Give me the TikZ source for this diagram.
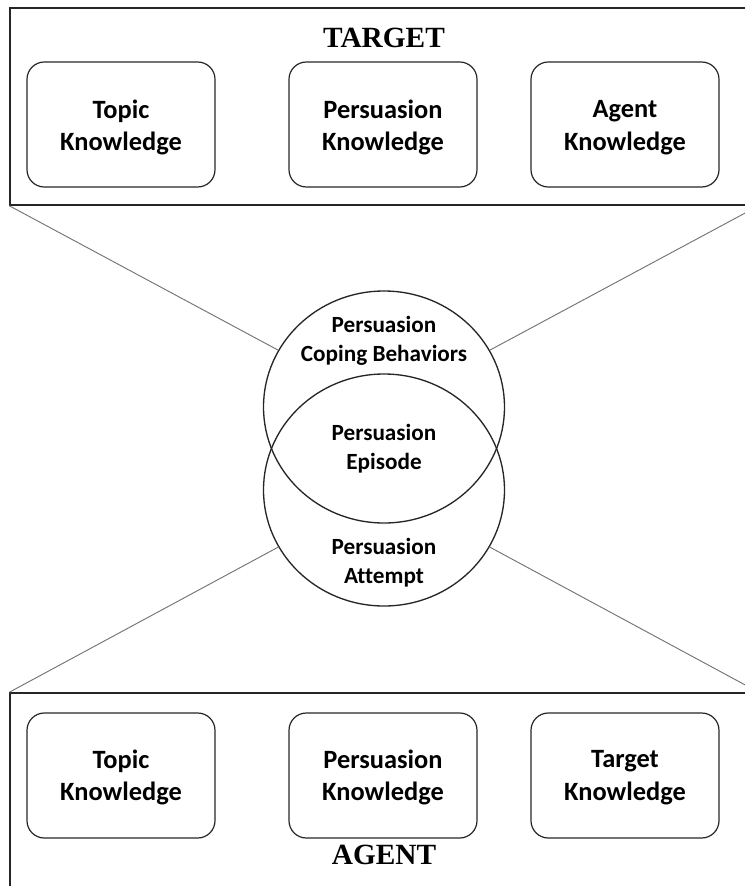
\documentclass[tikz,border=0pt]{standalone}
\usepackage{fontspec}
\setmainfont{Liberation Serif}
\newfontfamily\calfont[Ligatures=NoCommon]{Carlito}
\usetikzlibrary{shapes.geometric}
\begin{document}
\begin{tikzpicture}[x=0.75pt,y=-0.75pt,
  panel/.style={draw=black!85, line width=1.1pt, inner sep=0pt},
  kbox/.style={draw=black!85, line width=0.9pt, rounded corners=13pt, minimum width=141pt, minimum height=93.75pt, inner sep=0pt},
  ktext/.style={align=center, font=\calfont\bfseries\fontsize{19.8}{24.5}\selectfont},
  venn/.style={draw=black!85, line width=1.0pt, ellipse, minimum width=180.75pt, minimum height=174pt, inner sep=0pt},
  vtext/.style={align=center, font=\calfont\bfseries\fontsize{17.4}{21.5}\selectfont},
  title/.style={font=\bfseries\fontsize{22}{24}\selectfont},
  link/.style={draw=black!55, line width=0.7pt}]
\useasboundingbox (0,0) rectangle (745,886);
\clip (0,0) rectangle (745,886);
% panels
\node[panel, minimum width=561pt, minimum height=147.75pt] (target) at (384,106.5) {};
\node[panel, minimum width=561pt, minimum height=155.25pt] (agent) at (384,796.5) {};
\node[title] (ttl) at (384,38) {TARGET};
\node[title] (atl) at (384,855) {AGENT};
% top boxes
\node[kbox] (t1) at (121,124.5) {};
\node[kbox] (t2) at (383,124.5) {};
\node[kbox] (t3) at (625,124.5) {};
\node[ktext] at (121,127.5) {Topic\\Knowledge};
\node[ktext] at (383,127.5) {Persuasion\\Knowledge};
\node[ktext] at (625,127.5) {Agent\\Knowledge};
% bottom boxes
\node[kbox] (b1) at (121,775.5) {};
\node[kbox] (b2) at (383,775.5) {};
\node[kbox] (b3) at (625,775.5) {};
\node[ktext] at (121,777.5) {Topic\\Knowledge};
\node[ktext] at (383,777.5) {Persuasion\\Knowledge};
\node[ktext] at (625,777.5) {Target\\Knowledge};
% venn
\node[venn] (up) at (384,407) {};
\node[venn] (lo) at (384,490) {};
\node[vtext] (vc) at (384,341) {Persuasion\\Coping Behaviors};
\node[vtext] (ve) at (384,449) {Persuasion\\Episode};
\node[vtext] (va) at (384,563) {Persuasion\\Attempt};
% connectors
\draw[link] (target.south west) -- (up);
\draw[link] (target.south east) -- (up);
\draw[link] (agent.north west) -- (lo);
\draw[link] (agent.north east) -- (lo);
\end{tikzpicture}
\end{document}
